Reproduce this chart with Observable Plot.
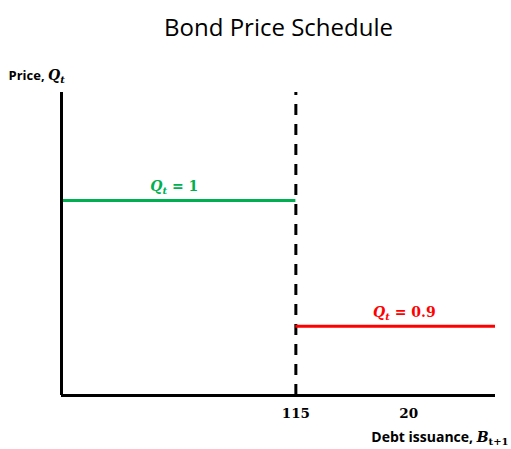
<!DOCTYPE html>
<html>
<head>
<meta charset="utf-8">
<script src="https://cdn.jsdelivr.net/npm/d3@7"></script>
<script src="https://cdn.jsdelivr.net/npm/@observablehq/plot@0.6"></script>
<style>
  body { margin: 0; background: #fff; }
  #chart { width: 511px; height: 449px; }
</style>
</head>
<body>
<div id="chart"></div>
<script>
// ---- data ----
const title = "Bond Price Schedule";
const breakPoint = 54;               // position of the threshold on the x axis
const xEnd = 100;
const prices = [1, 0.9];             // price levels
const priceLabels = ["1", "0.9"];
const priceColors = ["#00B050", "#FF0000"];
const segStart = [0, breakPoint];
const segEnd = [breakPoint, xEnd];
const labelX = [26, 79];
const tickPositions = [breakPoint, 80];
const tickLabels = ["115", "20"];

const yMin = 0.845, yMax = 1.086;

const segments = prices.map((p, i) => ({
  x1: segStart[i], x2: segEnd[i], y: p, color: priceColors[i], lx: labelX[i], label: priceLabels[i]
}));
const ticks = tickPositions.map((p, i) => ({x: p, label: tickLabels[i]}));

const chart = Plot.plot({
  width: 511,
  height: 449,
  marginLeft: 61,
  marginRight: 16,
  marginTop: 92,
  marginBottom: 54,
  x: {domain: [0, xEnd], axis: null},
  y: {domain: [yMin, yMax], axis: null},
  style: {background: "#fff", overflow: "visible"},
  marks: [
    // dashed threshold
    Plot.ruleX([breakPoint], {y1: yMax, y2: yMin, stroke: "#000", strokeWidth: 3, strokeDasharray: "11,9", strokeDashoffset: 8}),
    // price segments
    Plot.ruleY(segments, {x1: "x1", x2: "x2", y: "y", stroke: "color", strokeWidth: 3}),
    // axes
    Plot.ruleX([0], {y1: yMin, y2: yMax, stroke: "#000", strokeWidth: 3}),
    Plot.ruleY([yMin], {x1: 0, x2: xEnd, stroke: "#000", strokeWidth: 3}),
    // tick labels
    Plot.text(ticks, {x: "x", y: yMin, text: "label", dy: 18, fontFamily: "DejaVu Serif", fontWeight: "bold", fontSize: 13.5, fill: "#000"}),
    // segment labels
    Plot.text(segments, {x: "lx", y: "y", text: d => "Q = " + d.label, dy: -14, fill: "color", className: "qlabel", fontSize: 14}),
    // title
    Plot.text([title], {frameAnchor: "top", dy: -74, fontFamily: "Open Sans", fontSize: 24, fill: "#000", className: "title"}),
    // y label
    Plot.text(["Price, "], {frameAnchor: "top-left", dx: -53, dy: -22, textAnchor: "start", className: "ylab", fontSize: 13}),
    // x label
    Plot.text(["Debt issuance, "], {frameAnchor: "bottom-right", dx: 13, dy: 46, textAnchor: "end", className: "xlab", fontSize: 14})
  ]
});
document.getElementById("chart").appendChild(chart);

const svg = d3.select(chart);
const mathFont = "DejaVu Serif";
// segment labels: Q_t = value
svg.selectAll("g.qlabel text").each(function(d, i) {
  const t = d3.select(this);
  const txt = t.text();
  const val = txt.replace("Q = ", "");
  t.text(null).attr("font-family", mathFont).attr("font-weight", "bold");
  t.append("tspan").attr("font-style", "italic").text("Q");
  t.append("tspan").attr("font-style", "italic").attr("font-size", 10).attr("dy", 3).text("t");
  t.append("tspan").attr("dy", -3).text(" = " + val);
});
// y label
svg.selectAll("g.ylab text").each(function() {
  const t = d3.select(this);
  t.text(null).attr("font-family", "Open Sans").attr("font-weight", "bold");
  t.append("tspan").text("Price, ");
  t.append("tspan").attr("font-family", mathFont).attr("font-style", "italic").attr("font-size", 14).text("Q");
  t.append("tspan").attr("font-family", mathFont).attr("font-style", "italic").attr("font-size", 10).attr("dy", 3).text("t");
});
// x label
svg.selectAll("g.xlab text").each(function() {
  const t = d3.select(this);
  t.text(null).attr("font-family", "Open Sans").attr("font-weight", "bold");
  t.append("tspan").text("Debt issuance, ");
  t.append("tspan").attr("font-family", mathFont).attr("font-style", "italic").attr("font-size", 14).text("B");
  t.append("tspan").attr("font-family", mathFont).attr("font-size", 10).attr("dy", 3).text("t+1");
});
</script>
</body>
</html>
